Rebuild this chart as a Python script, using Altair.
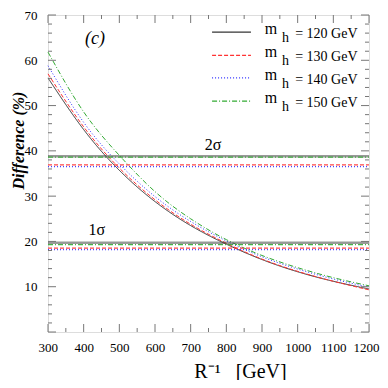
import altair as alt
import pandas as pd

# ---- data ----
R = [300, 400, 500, 600, 700, 800, 900, 1000, 1100, 1200]
series_names = ["m_h = 120 GeV", "m_h = 130 GeV", "m_h = 140 GeV", "m_h = 150 GeV"]
d120 = [56.1, 44.7, 35.7, 28.8, 23.5, 19.4, 16.0, 13.3, 11.2, 9.5]
d130 = [57.0, 45.3, 36.2, 29.2, 23.8, 19.6, 16.1, 13.4, 11.2, 9.3]
d140 = [58.8, 46.3, 37.1, 29.9, 24.4, 20.1, 16.6, 13.9, 11.7, 9.9]
d150 = [61.8, 48.6, 39.0, 31.0, 25.0, 20.4, 16.9, 14.2, 12.0, 10.2]

two_sigma = [38.8, 36.9, 36.5, 38.6]   # 120,130,140,150
one_sigma = [19.7, 18.5, 18.2, 19.3]

legend_mass = ["= 120 GeV", "= 130 GeV", "= 140 GeV", "= 150 GeV"]
legend_y = [66.2, 61.1, 56.1, 51.0]

x_ticks = [300, 400, 500, 600, 700, 800, 900, 1000, 1100, 1200]
y_ticks = [10, 20, 30, 40, 50, 60, 70]

colors = ["#333333", "#ff3333", "#3333ff", "#33aa33"]
dashes = [[1, 0], [4, 2], [1, 2], [5, 2, 1, 2]]

W, H = 321, 317
FONT = "Times New Roman, Liberation Serif, serif"

rows = []
for name, vals in zip(series_names, [d120, d130, d140, d150]):
    for r, v in zip(R, vals):
        rows.append({"R": r, "v": v, "series": name})
curves = pd.DataFrame(rows)

hl = []
for name, a, b in zip(series_names, two_sigma, one_sigma):
    hl.append({"series": name, "v": a, "x0": 300, "x1": 1200})
    hl.append({"series": name, "v": b, "x0": 300, "x1": 1200})
hlines = pd.DataFrame(hl)

leg = pd.DataFrame({"series": series_names, "y": legend_y, "x0": 760, "x1": 869,
                    "xm": 908, "xh": 956, "xt": 993, "txt": legend_mass})

xsc = alt.Scale(domain=[300, 1200], nice=False, zero=False)
ysc = alt.Scale(domain=[0, 70], nice=False, zero=False)
col = alt.Color("series:N", scale=alt.Scale(domain=series_names, range=colors), legend=None)
dash = alt.StrokeDash("series:N", scale=alt.Scale(domain=series_names, range=dashes), legend=None)

ax_x = alt.Axis(values=x_ticks, format="d", labelOverlap=False,
                ticks=False, domain=False, grid=False,
                labelFont=FONT, labelFontSize=13, labelColor="black",
                labelPadding=9, labelFlush=True, labelFlushOffset=10,
                title="R\u207b\u00b9\u00a0\u00a0\u00a0[GeV]", titleFont=FONT,
                titleFontSize=20, titleFontWeight="normal", titleColor="black",
                titleX=192, titleY=45, titleBaseline="alphabetic", titleAlign="center")
ax_y = alt.Axis(values=y_ticks, format="d", labelOverlap=False,
                ticks=False, domain=False, grid=False,
                labelFont=FONT, labelFontSize=13, labelColor="black",
                labelPadding=11, labelFlush=False,
                title="Difference (%)", titleFont=FONT, titleFontSize=16,
                titleFontWeight="bold", titleFontStyle="italic",
                titleColor="black", titleX=-30, titleY=125,
                titleAlign="center", titleBaseline="middle", titleAngle=-90)


def X(field):
    return alt.X(field, scale=xsc, axis=ax_x)


def Y(field):
    return alt.Y(field, scale=ysc, axis=ax_y)


lines = alt.Chart(curves).mark_line(strokeWidth=1, interpolate="natural").encode(
    x=X("R:Q"), y=Y("v:Q"), color=col, strokeDash=dash)

hrules = alt.Chart(hlines).mark_rule().encode(
    x=X("x0:Q"), x2="x1:Q", y=Y("v:Q"),
    color=col, strokeDash=dash,
    strokeWidth=alt.condition(alt.datum.series == series_names[0], alt.value(2.4), alt.value(1.2)),
    opacity=alt.condition(alt.datum.series == series_names[0], alt.value(0.5), alt.value(0.9)))

labels = pd.DataFrame({"x": [432, 763, 437], "y": [64.8, 41.2, 22.5],
                       "t": ["(c)", "2\u03c3", "1\u03c3"]})
lab_c = alt.Chart(labels.iloc[[0]]).mark_text(font=FONT, fontSize=18, fontStyle="italic",
                                               color="black").encode(
    x=X("x:Q"), y=Y("y:Q"), text="t:N")
lab_s = alt.Chart(labels.iloc[[1, 2]]).mark_text(font=FONT, fontSize=16, color="black").encode(
    x=X("x:Q"), y=Y("y:Q"), text="t:N")

leg_lines = alt.Chart(leg).mark_rule(strokeWidth=1.2).encode(
    x=X("x0:Q"), x2="x1:Q", y=Y("y:Q"), color=col, strokeDash=dash)
leg_m = alt.Chart(leg).mark_text(font=FONT, fontSize=16, align="left", dy=-3, color="black").encode(
    x=X("xm:Q"), y=Y("y:Q"), text=alt.value("m"))
leg_h = alt.Chart(leg).mark_text(font=FONT, fontSize=14, align="left", dy=6, color="black").encode(
    x=X("xh:Q"), y=Y("y:Q"), text=alt.value("h"))
leg_t = alt.Chart(leg).mark_text(font=FONT, fontSize=14, align="left", dy=2, color="black").encode(
    x=X("xt:Q"), y=Y("y:Q"), text="txt:N")

# inward frame ticks
ymaj = pd.DataFrame({"v": list(range(0, 71, 10))})
ymin = pd.DataFrame({"v": [v for v in range(0, 71, 2) if v % 10 != 0]})
xmaj = pd.DataFrame({"R": x_ticks})
xmin = pd.DataFrame({"R": list(range(350, 1200, 100))})
tk = dict(color="#777777", strokeWidth=1)
ticks = [
    alt.Chart(ymaj).mark_rule(**tk).encode(y=Y("v:Q"), x=alt.value(0), x2=alt.value(8)),
    alt.Chart(ymaj).mark_rule(**tk).encode(y=Y("v:Q"), x=alt.value(W - 8), x2=alt.value(W)),
    alt.Chart(ymin).mark_rule(**tk).encode(y=Y("v:Q"), x=alt.value(0), x2=alt.value(4)),
    alt.Chart(ymin).mark_rule(**tk).encode(y=Y("v:Q"), x=alt.value(W - 4), x2=alt.value(W)),
    alt.Chart(xmaj).mark_rule(**tk).encode(x=X("R:Q"), y=alt.value(H), y2=alt.value(H - 8)),
    alt.Chart(xmaj).mark_rule(**tk).encode(x=X("R:Q"), y=alt.value(0), y2=alt.value(8)),
    alt.Chart(xmin).mark_rule(**tk).encode(x=X("R:Q"), y=alt.value(H), y2=alt.value(H - 4)),
    alt.Chart(xmin).mark_rule(**tk).encode(x=X("R:Q"), y=alt.value(0), y2=alt.value(4)),
]

chart = alt.layer(lines, hrules, lab_c, lab_s, leg_lines, leg_m, leg_h, leg_t, *ticks).properties(
    width=W, height=H,
    autosize=alt.AutoSizeParams(type="none"),
    padding={"left": 40, "top": 7, "right": 11, "bottom": 48},
).configure_view(stroke="#777777", strokeWidth=1.5).configure_axis(
    labelFont=FONT, titleFont=FONT, labelFontSize=13, labelColor="black"
).configure(background="white", font=FONT)

chart.save("out.html", embed_options={"renderer": "svg", "actions": False})
